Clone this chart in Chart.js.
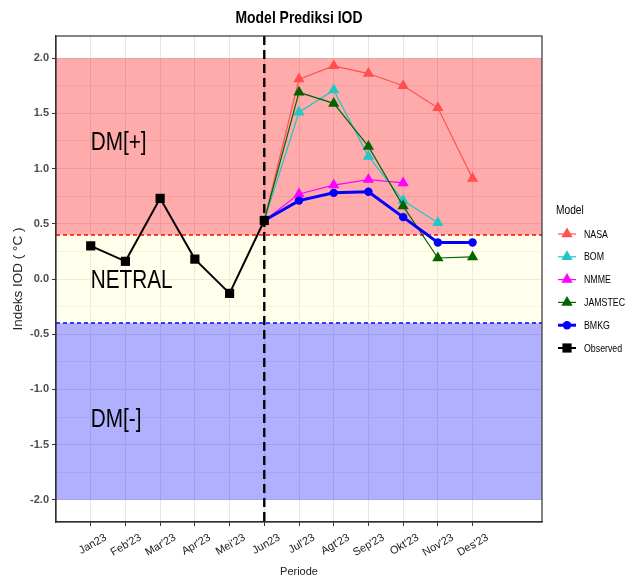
<!DOCTYPE html>
<html>
<head>
<meta charset="utf-8">
<script src="https://cdn.jsdelivr.net/npm/chart.js@4.4.1/dist/chart.umd.min.js"></script>
<style>
html,body{margin:0;padding:0;background:#fff;}
#wrap{width:628px;height:579px;position:relative;}
</style>
</head>
<body>
<div id="wrap"><canvas id="c" width="628" height="579"></canvas></div>
<script>
const months = ["Jan23","Feb'23","Mar'23","Apr'23","Mei'23","Jun23","Jul'23","Agt'23","Sep'23","Okt'23","Nov'23","Des'23"];
const observed = [0.30, 0.16, 0.73, 0.18, -0.13, 0.53, null, null, null, null, null, null];
const nasa     = [null, null, null, null, null, 0.53, 1.81, 1.93, 1.86, 1.75, 1.55, 0.91];
const bom      = [null, null, null, null, null, 0.53, 1.51, 1.71, 1.11, 0.71, 0.51, null];
const nmme     = [null, null, null, null, null, 0.53, 0.77, 0.85, 0.90, 0.87, null, null];
const jamstec  = [null, null, null, null, null, 0.53, 1.69, 1.59, 1.20, 0.66, 0.19, 0.20];
const bmkg     = [null, null, null, null, null, 0.53, 0.71, 0.78, 0.79, 0.56, 0.33, 0.33];
const yTicks = [-2.0,-1.75,-1.5,-1.25,-1.0,-0.75,-0.5,-0.25,0,0.25,0.5,0.75,1.0,1.25,1.5,1.75,2.0];
const thresholds = [0.4, -0.4];
const zoneLabels = ["DM[+]", "NETRAL", "DM[-]"];
const zoneLabelY = [1.23, -0.02, -1.28];

const FONT = "'Liberation Sans', Arial, sans-serif";

function pts(arr){ return arr.map((v,i)=> v===null ? null : {x:i, y:v}).filter(p=>p); }

const series = [
  {label:'NASA', data:nasa, color:'#FF4F4F', style:'triangle', r:6.5, w:1.2, order:5},
  {label:'BOM', data:bom, color:'#22C6C6', style:'triangle', r:6.5, w:1.2, order:4},
  {label:'NMME', data:nmme, color:'#FF00FF', style:'triangle', r:6.5, w:1.2, order:3},
  {label:'JAMSTEC', data:jamstec, color:'#006400', style:'triangle', r:6.5, w:1.2, order:2},
  {label:'BMKG', data:bmkg, color:'#0000FF', style:'circle', r:4.2, w:3, order:1},
  {label:'Observed', data:observed, color:'#000000', style:'rect', r:6.5, w:2, order:0}
];

const datasets = series.map(s => ({
  label: s.label,
  data: pts(s.data),
  borderColor: s.color,
  backgroundColor: s.color,
  borderWidth: s.w,
  pointStyle: s.style,
  pointRadius: (ctx) => (s.label !== 'Observed' && ctx.raw && ctx.raw.x === 5) ? 0 : s.r,
  pointHoverRadius: 0,
  pointBorderWidth: 0,
  tension: 0,
  order: s.order
}));

function condensedText(ctx, text, x, y, sx){
  ctx.save();
  ctx.translate(x, y);
  ctx.scale(sx, 1);
  ctx.fillText(text, 0, 0);
  ctx.restore();
}

const bgPlugin = {
  id: 'bg',
  beforeDatasetsDraw(chart){
    const {ctx, chartArea:a, scales:{x, y}} = chart;
    ctx.save();
    ctx.fillStyle = 'rgba(255,0,0,0.33)';
    ctx.fillRect(a.left, y.getPixelForValue(2.0), a.right-a.left, y.getPixelForValue(0.4)-y.getPixelForValue(2.0));
    ctx.fillStyle = 'rgba(255,255,190,0.3)';
    ctx.fillRect(a.left, y.getPixelForValue(0.4), a.right-a.left, y.getPixelForValue(-0.4)-y.getPixelForValue(0.4));
    ctx.fillStyle = 'rgba(0,0,255,0.31)';
    ctx.fillRect(a.left, y.getPixelForValue(-0.4), a.right-a.left, y.getPixelForValue(-2.0)-y.getPixelForValue(-0.4));
    ctx.lineWidth = 1.4;
    ctx.setLineDash([4,3]);
    ['#FF0000','#0000FF'].forEach((c,i)=>{
      const py = Math.round(y.getPixelForValue(thresholds[i]));
      ctx.strokeStyle = c;
      ctx.beginPath(); ctx.moveTo(a.left, py); ctx.lineTo(a.right, py); ctx.stroke();
    });
    ctx.setLineDash([9,5]);
    ctx.lineWidth = 2.4;
    ctx.strokeStyle = '#000';
    const vx = x.getPixelForValue(5);
    ctx.beginPath(); ctx.moveTo(vx, a.top); ctx.lineTo(vx, a.bottom); ctx.stroke();
    ctx.setLineDash([]);
    ctx.fillStyle = '#000';
    ctx.font = "25px " + FONT;
    ctx.textAlign = 'left';
    ctx.textBaseline = 'middle';
    zoneLabels.forEach((t,i)=>{
      condensedText(ctx, t, x.getPixelForValue(0), y.getPixelForValue(zoneLabelY[i]), 0.83);
    });
    ctx.restore();
  },
  afterDatasetsDraw(chart){
    const {ctx, chartArea:a} = chart;
    ctx.save();
    ctx.strokeStyle = '#333';
    ctx.lineWidth = 1.2;
    ctx.strokeRect(a.left, a.top, a.right-a.left, a.bottom-a.top);
    ctx.restore();
  },
  afterDraw(chart){
    const {ctx, chartArea:a} = chart;
    ctx.save();
    ctx.fillStyle = '#000';
    ctx.font = "bold 17px " + FONT;
    ctx.textAlign = 'center';
    ctx.textBaseline = 'middle';
    condensedText(ctx, 'Model Prediksi IOD', (a.left + a.right)/2, 18, 0.82);
    ctx.textAlign = 'left';
    ctx.font = "12px " + FONT;
    condensedText(ctx, 'Model', 556, 211, 0.85);
    series.forEach((s,i)=>{
      const cy = 234 + 22.8*i;
      const cx = 567;
      ctx.strokeStyle = s.color;
      ctx.lineWidth = s.w;
      ctx.beginPath(); ctx.moveTo(cx-9, cy); ctx.lineTo(cx+9, cy); ctx.stroke();
      ctx.fillStyle = s.color;
      const r = s.r;
      if (s.style === 'triangle') {
        ctx.beginPath();
        ctx.moveTo(cx, cy - r);
        ctx.lineTo(cx + r*0.87, cy + r*0.5);
        ctx.lineTo(cx - r*0.87, cy + r*0.5);
        ctx.closePath(); ctx.fill();
      } else if (s.style === 'circle') {
        ctx.beginPath(); ctx.arc(cx, cy, r, 0, Math.PI*2); ctx.fill();
      } else {
        const h = r*0.707;
        ctx.fillRect(cx-h, cy-h, 2*h, 2*h);
      }
      ctx.fillStyle = '#000';
      ctx.font = "11px " + FONT;
      condensedText(ctx, s.label, 584, cy+0.5, 0.8);
    });
    ctx.restore();
  }
};

new Chart(document.getElementById('c'), {
  type: 'line',
  data: { datasets },
  plugins: [bgPlugin],
  options: {
    responsive: false,
    animation: false,
    devicePixelRatio: 1,
    layout: { padding: { left: 0, right: 86, top: 36, bottom: 0 } },
    plugins: {
      legend: { display: false },
      tooltip: { enabled: false },
      title: { display: false }
    },
    scales: {
      x: {
        type: 'linear',
        min: -1, max: 13,
        afterBuildTicks: (s) => { s.ticks = months.map((_, i) => ({ value: i })); },
        afterFit: (s) => { s.height = 57; },
        ticks: {
          autoSkip: false,
          minRotation: 30, maxRotation: 30,
          labelOffset: 15,
          padding: 5,
          color: '#222',
          font: { family: FONT, size: 11 },
          callback: (v) => months[v] ?? ''
        },
        grid: { color: '#E6E6E6', lineWidth: 1, tickLength: 4, tickColor: '#333' },
        border: { display: true, color: '#333', width: 1.2 },
        title: { display: true, text: 'Periode', color: '#222', font: { family: FONT, size: 11 }, padding: { top: 0, bottom: 0 } }
      },
      y: {
        type: 'linear',
        min: -2.2, max: 2.2,
        afterBuildTicks: (s) => { s.ticks = yTicks.map(v => ({ value: v })); },
        afterFit: (s) => { s.width = 56; },
        ticks: {
          autoSkip: false,
          padding: 3,
          color: '#4D4D4D',
          font: { family: FONT, size: 11, weight: 'bold' },
          callback: (v) => (Math.abs(v*2 - Math.round(v*2)) < 1e-6) ? v.toFixed(1) : ''
        },
        grid: {
          color: '#E6E6E6',
          lineWidth: (c) => (c.tick && Math.abs(c.tick.value*2 - Math.round(c.tick.value*2)) < 1e-6) ? 1 : 0.6,
          tickLength: 4,
          tickColor: (c) => (c.tick && Math.abs(c.tick.value*2 - Math.round(c.tick.value*2)) < 1e-6) ? '#333' : 'rgba(0,0,0,0)'
        },
        border: { display: true, color: '#333', width: 1.2 },
        title: { display: true, text: 'Indeks IOD ( °C )', color: '#222', font: { family: FONT, size: 13.5 }, padding: { top: 10, bottom: 0 } }
      }
    }
  }
});
</script>
</body>
</html>
